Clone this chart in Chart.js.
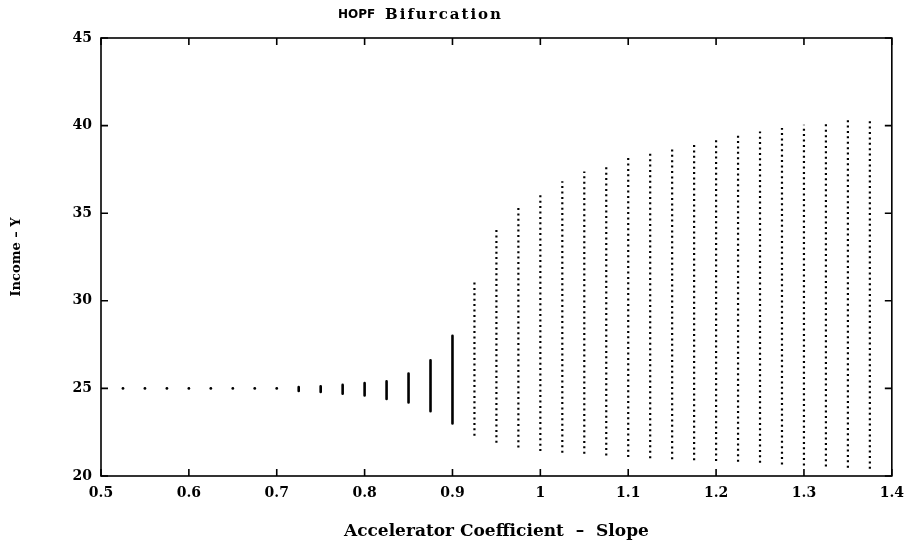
<!DOCTYPE html>
<html>
<head>
<meta charset="utf-8">
<script src="https://cdn.jsdelivr.net/npm/chart.js@4.4.0/dist/chart.umd.min.js"></script>
<style>
html, body { margin: 0; padding: 0; background: #fff; }
</style>
</head>
<body>
<canvas id="c" width="913" height="546"></canvas>
<script>
// accelerator coefficient values, one column of iterates per value
var slopes = [0.525, 0.55, 0.575, 0.6, 0.625, 0.65, 0.675, 0.7,
              0.725, 0.75, 0.775, 0.8, 0.825, 0.85, 0.875, 0.9,
              0.925, 0.95, 0.975, 1.0, 1.025, 1.05, 1.075, 1.1, 1.125,
              1.15, 1.175, 1.2, 1.225, 1.25, 1.275, 1.3, 1.325, 1.35, 1.375];
// top and bottom of each column (income Y)
var incomeHigh = [25, 25, 25, 25, 25, 25, 25, 25,
                  25.07, 25.12, 25.2, 25.3, 25.4, 25.85, 26.6, 28.0,
                  31.1, 34.2, 35.45, 36.2, 36.82, 37.38, 37.8, 38.18, 38.49,
                  38.81, 39.04, 39.29, 39.48, 39.67, 39.86, 40.05, 40.2, 40.38, 40.45];
var incomeLow = [25, 25, 25, 25, 25, 25, 25, 25,
                 24.85, 24.8, 24.7, 24.6, 24.4, 24.2, 23.7, 23.0,
                 22.3, 21.9, 21.62, 21.42, 21.33, 21.27, 21.17, 21.08, 21.02,
                 20.96, 20.9, 20.86, 20.82, 20.76, 20.66, 20.6, 20.54, 20.47, 20.41];

var xTicks = [0.5, 0.6, 0.7, 0.8, 0.9, 1.0, 1.1, 1.2, 1.3, 1.4];
var xTickLabels = ['0.5', '0.6', '0.7', '0.8', '0.9', '1', '1.1', '1.2', '1.3', '1.4'];
var yTicks = [20, 25, 30, 35, 40, 45];
var yTickLabels = ['20', '25', '30', '35', '40', '45'];

function fixedPoints(from, to){
    var pts = [];
    for (var i = from; i <= to; i++) {
        pts.push({x: slopes[i], y: incomeHigh[i]});
    }
    return pts;
}

// each column is a two point segment, broken by a null
function columns(from, to){
    var pts = [];
    for (var i = from; i <= to; i++) {
        pts.push({x: slopes[i], y: incomeLow[i]});
        pts.push({x: slopes[i], y: incomeHigh[i]});
        pts.push({x: slopes[i], y: null});
    }
    return pts;
}

var frame = {
    id: 'frame',
    afterDraw: function(chart){
        var ctx = chart.ctx, a = chart.chartArea;
        var xs = chart.scales.x, ys = chart.scales.y;
        ctx.save();
        ctx.strokeStyle = '#000';
        ctx.lineWidth = 1.6;
        ctx.strokeRect(a.left, a.top, a.right - a.left, a.bottom - a.top);
        ctx.beginPath();
        xTicks.forEach(function(v){
            var px = xs.getPixelForValue(v);
            ctx.moveTo(px, a.bottom); ctx.lineTo(px, a.bottom - 7);
            ctx.moveTo(px, a.top); ctx.lineTo(px, a.top + 7);
        });
        yTicks.forEach(function(v){
            var py = ys.getPixelForValue(v);
            ctx.moveTo(a.left, py); ctx.lineTo(a.left + 7, py);
            ctx.moveTo(a.right, py); ctx.lineTo(a.right - 7, py);
        });
        ctx.stroke();
        // title: sans "HOPF", heavy serif "Bifurcation"
        ctx.fillStyle = '#000';
        ctx.textBaseline = 'middle';
        ctx.font = 'bold 12px "DejaVu Sans"';
        ctx.fillText('HOPF', 338, 15);
        ctx.font = 'bold 15px "DejaVu Serif"';
        ctx.letterSpacing = '2px';
        ctx.fillText('Bifurcation', 385, 15);
        ctx.restore();
    }
};

new Chart(document.getElementById('c'), {
    type: 'scatter',
    data: {
        datasets: [
            {
                label: 'fixed point',
                data: fixedPoints(0, 7),
                pointRadius: 1.4,
                pointBackgroundColor: '#000',
                pointBorderWidth: 0,
                showLine: false
            },
            {
                label: 'small cycles',
                data: columns(8, 15),
                showLine: true,
                spanGaps: false,
                borderColor: '#000',
                borderWidth: 2.6,
                borderCapStyle: 'round',
                pointRadius: 0
            },
            {
                label: 'limit cycles',
                data: columns(16, 34),
                showLine: true,
                spanGaps: false,
                borderColor: '#000',
                borderWidth: 2.2,
                borderDash: [2, 3.4],
                pointRadius: 0
            }
        ]
    },
    options: {
        responsive: false,
        animation: false,
        layout: { padding: { top: 38, right: 20, left: 0, bottom: 0 } },
        plugins: {
            legend: { display: false },
            tooltip: { enabled: false }
        },
        scales: {
            x: {
                type: 'linear',
                min: 0.5,
                max: 1.4,
                grid: { display: false, drawTicks: false },
                border: { display: false },
                afterBuildTicks: function(scale){
                    scale.ticks = xTicks.map(function(v){ return {value: v}; });
                },
                afterFit: function(scale){ scale.height = 70; },
                ticks: {
                    padding: 9,
                    color: '#000',
                    maxRotation: 0,
                    font: { family: '"DejaVu Serif"', weight: 'bold', size: 14 },
                    callback: function(v, i){ return xTickLabels[i]; }
                },
                title: {
                    display: true,
                    text: 'Accelerator Coefficient  \u2013  Slope',
                    color: '#000',
                    font: { family: '"DejaVu Serif"', weight: 'bold', size: 17 },
                    padding: { top: 0, bottom: 4 }
                }
            },
            y: {
                type: 'linear',
                min: 20,
                max: 45,
                grid: { display: false, drawTicks: false },
                border: { display: false },
                afterBuildTicks: function(scale){
                    scale.ticks = yTicks.map(function(v){ return {value: v}; });
                },
                afterFit: function(scale){ scale.width = 101; },
                ticks: {
                    padding: 9,
                    color: '#000',
                    font: { family: '"DejaVu Serif"', weight: 'bold', size: 14 },
                    callback: function(v, i){ return yTickLabels[i]; }
                },
                title: {
                    display: true,
                    text: 'Income \u2013 Y',
                    color: '#000',
                    font: { family: '"DejaVu Serif"', weight: 'bold', size: 13 },
                    padding: { top: 9, bottom: 0 }
                }
            }
        }
    },
    plugins: [frame]
});
</script>
</body>
</html>
